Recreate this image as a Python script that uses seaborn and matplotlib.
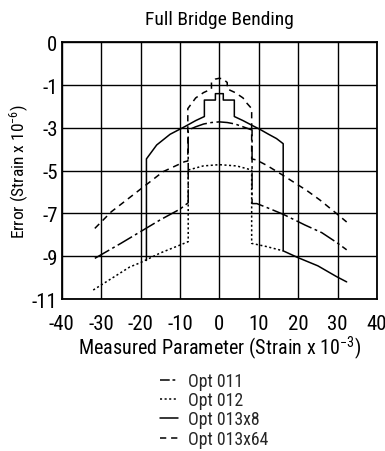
import matplotlib
matplotlib.use("Agg")
import matplotlib.pyplot as plt
from matplotlib import font_manager
import seaborn as sns

# Opt 011 (long dash / short dash)
opt011_x = [-31.6, -25, -20, -15, -10, -7.9, -7.9, -6, -4, -2, 0, 2, 4, 6, 8.3, 8.3, 9.5, 12, 16.2, 21.7, 26, 29.7, 32.3]
opt011_y = [-9.1, -8.4, -7.85, -7.3, -6.8, -6.5, -3.1, -2.95, -2.82, -2.75, -2.72, -2.75, -2.82, -2.95, -3.1, -6.54, -6.54, -6.72, -7.04, -7.54, -7.9, -8.35, -8.7]

# Opt 012 (dotted)
opt012_x = [-32, -27, -22.7, -20, -15, -10, -7.9, -7.9, -4.1, 0, 4.4, 8.2, 8.2, 12, 16.2]
opt012_y = [-10.58, -10.0, -9.5, -9.3, -8.85, -8.48, -8.32, -4.97, -4.78, -4.72, -4.78, -4.97, -8.4, -8.55, -8.75]

# Opt 013x8 (solid)
opt013x8_x = [-18.5, -18.5, -15.9, -12.5, -8.75, -6, -3.8, -3.8, -1, -1, 1, 1, 3.8, 3.8, 6, 9, 10.3, 12.5, 14.5, 16.2, 16.2, 20, 25, 29.7, 32.3]
opt013x8_y = [-9.2, -4.45, -3.8, -3.3, -2.94, -2.66, -2.47, -1.7, -1.7, -1.4, -1.4, -1.7, -1.7, -2.47, -2.66, -2.95, -3.07, -3.3, -3.5, -3.74, -8.75, -9.07, -9.45, -9.95, -10.2]

# Opt 013x64 (dashed)
opt013x64_x = [-31.6, -27.4, -22.7, -18, -14.3, -8.8, -8.0, -8.0, -7, -6, -4, -2, -2, -1, 0, 1, 2, 2, 4, 6, 7, 8.2, 8.2, 9.4, 12, 16, 22.2, 25.5, 29.7, 32.3]
opt013x64_y = [-7.7, -6.92, -6.25, -5.58, -5.05, -4.58, -4.55, -2.1, -1.85, -1.6, -1.35, -1.18, -0.88, -0.72, -0.68, -0.72, -0.88, -1.18, -1.35, -1.6, -1.85, -2.1, -4.45, -4.5, -4.75, -5.2, -5.93, -6.37, -7.0, -7.4]

x_ticks = [-40, -30, -20, -10, 0, 10, 20, 30, 40]
# the printed y axis has evenly spaced gridlines labelled 0, -1, -3, ... -11
y_ticks = [1, -1, -3, -5, -7, -9, -11]
y_tick_labels = ["0", "-1", "-3", "-5", "-7", "-9", "-11"]

sns.set_theme(style="white")
installed = {f.name for f in font_manager.fontManager.ttflist}
narrow = next((n for n in ["Roboto Condensed", "Archivo Narrow", "Liberation Sans Narrow"] if n in installed), "DejaVu Sans")
plt.rcParams["font.family"] = [narrow, "DejaVu Sans"]
plt.rcParams["axes.unicode_minus"] = False
plt.rcParams["mathtext.fontset"] = "custom"
plt.rcParams["mathtext.rm"] = narrow
plt.rcParams["mathtext.default"] = "rm"
plt.rcParams["lines.scale_dashes"] = False

fig = plt.figure(figsize=(3.85, 4.52), dpi=100)
ax = fig.add_axes([61.7 / 385, 1 - 300 / 452, (377 - 61.7) / 385, (300 - 43.3) / 452])

lw = 1.1
sns.lineplot(x=opt011_x, y=opt011_y, sort=False, estimator=None, color="black", lw=lw,
             linestyle=(0, (12, 2.5, 2, 2.5)), label="Opt 011", ax=ax)
sns.lineplot(x=opt012_x, y=opt012_y, sort=False, estimator=None, color="black", lw=lw,
             linestyle=(0, (1.5, 1.8)), label="Opt 012", ax=ax)
sns.lineplot(x=opt013x8_x, y=opt013x8_y, sort=False, estimator=None, color="black", lw=lw,
             linestyle="-", label="Opt 013x8", ax=ax)
sns.lineplot(x=opt013x64_x, y=opt013x64_y, sort=False, estimator=None, color="black", lw=lw,
             linestyle=(0, (4.5, 3.5)), label="Opt 013x64", ax=ax)

ax.set_xlim(-40, 40)
ax.set_ylim(-11, 1)
ax.set_xticks(x_ticks)
ax.set_xticklabels([str(t) for t in x_ticks])
ax.set_yticks(y_ticks)
ax.set_yticklabels(y_tick_labels)
ax.grid(True, color="black", lw=1.0)
for s in ax.spines.values():
    s.set_color("black")
    s.set_linewidth(1.3)
ax.tick_params(axis="both", length=0, labelsize=15, colors="black")
ax.tick_params(axis="x", pad=11)
ax.tick_params(axis="y", pad=3)

ax.set_title("Full Bridge Bending", fontsize=14, pad=13, color="black")
ax.set_xlabel(r"Measured Parameter (Strain x 10$^{-3}$)", fontsize=14.5, color="black", labelpad=0)
ax.set_ylabel(r"Error (Strain x 10$^{-6}$)", fontsize=12.5, color="black", labelpad=0.5)

leg = ax.legend(loc="upper left", bbox_to_anchor=(160 / 385, 1 - 373 / 452), bbox_transform=fig.transFigure,
                frameon=False, fontsize=12.8, handlelength=1.0, handletextpad=0.55, labelspacing=0.07,
                borderpad=0, borderaxespad=0)
leg.get_lines()[0].set_linestyle((0, (7, 2, 2, 2)))

plt.savefig("out.png", dpi=100)
